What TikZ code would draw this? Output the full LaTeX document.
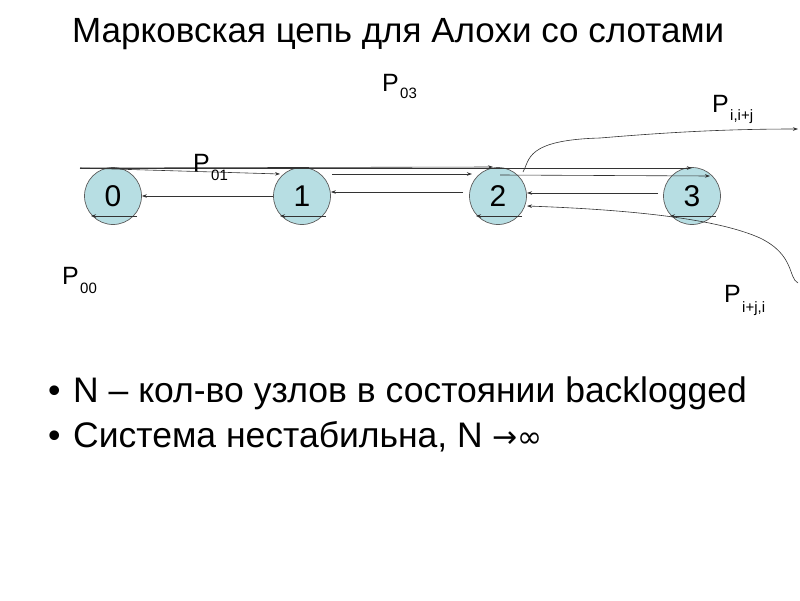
\documentclass[tikz,border=0pt]{standalone}
\usepackage{fontspec}
\setmainfont{Liberation Sans}
\newfontfamily\symfont{DejaVu Sans}
\usetikzlibrary{arrows.meta}
\definecolor{nodefill}{HTML}{B7DEE3}
\definecolor{edge}{HTML}{333333}
\begin{document}
\begin{tikzpicture}[x=1pt,y=-1pt,
  state/.style={circle,draw=edge!80,line width=0.7pt,fill=nodefill,minimum size=57pt,inner sep=0pt,font=\fontsize{30}{30}\selectfont},
  lab/.style={inner sep=0pt,anchor=base west,font=\fontsize{25}{25}\selectfont},
  sub/.style={inner sep=0pt,anchor=base west,font=\fontsize{15}{15}\selectfont},
  arr/.style={draw=edge,line width=0.6pt,-{Stealth[length=5pt,width=3.5pt]}},
  txt/.style={inner sep=0pt,anchor=base west},
  big/.style={txt,font=\fontsize{35.5}{40}\selectfont}]
\useasboundingbox (0,0) rectangle (800,600);
% title
\node[txt,font=\fontsize{35}{40}\selectfont] (title) at (72,42) {Марковская цепь для Алохи со слотами};
% states
\node[state] (s0) at (113,196) {0};
\node[state] (s1) at (302,196) {1};
\node[state] (s2) at (498,196) {2};
\node[state] (s3) at (692,196) {3};
% helper coordinates
\coordinate (a0) at (80,168);
\coordinate (t3) at (692,168);
\coordinate (t2) at (493,167);
\coordinate (e1) at (280,174);
\coordinate (b1) at (332,174);
\coordinate (e2) at (472,174);
\coordinate (b2) at (500,175);
\coordinate (e3) at (710,176);
\coordinate (c2) at (523,172);
\coordinate (out) at (798,129);
\coordinate (in) at (798,283);
% long edges over the top
\draw[arr,line width=0.9pt] (a0) -- (t3);
\draw[arr] (a0) -- (t2);
\draw[arr] (a0) -- (e1);
\draw[arr,line width=0.9pt] (b1) -- (e2);
\draw[arr] (b2) -- (e3);
% backward edges
\draw[arr] (s1.west |- 0,196) -- (s0.east |- 0,196);
\draw[arr] (463,192) -- (s1.east |- 0,192);
\draw[arr] (658,193) -- (527,193);
% self loops (chords at bottom)
\foreach \n/\x in {s0/113,s1/302,s2/498,s3/692}{
  \draw[arr] (\x+24,216) -- (\x-22,216);
}
% i -> i+j
\draw[arr] (c2) .. controls (530,160) and (525,140) .. (600,138) .. controls (660,133) and (720,129) .. (out);
% i+j -> i
\draw[arr] (in) .. controls (788,278) and (795,255) .. (760,238) .. controls (720,220) and (640,210) .. (527,206);
% labels
\node[lab] (p03) at (382,91) {P};
\node[sub] (p03s) at (400,98) {03};
\node[lab] (pij) at (712,112) {P};
\node[sub] (pijs) at (730,120) {i,i+j};
\node[lab] (p01) at (193,171) {P};
\node[sub] (p01s) at (211,180) {01};
\node[lab] (p00) at (62,284) {P};
\node[sub] (p00s) at (80,293) {00};
\node[lab] (pji) at (724,302) {P};
\node[sub] (pjis) at (742,312) {i+j,i};
% bullets
\node[big] (b1t) at (48,402) {•};
\node[big] (l1) at (73,402) {N – кол-во узлов в состоянии backlogged};
\node[big] (b2t) at (48,447) {•};
\node[big] (l2) at (73,447) {Система нестабильна, N {\symfont\fontsize{30}{30}\selectfont →∞}};
\end{tikzpicture}
\end{document}
